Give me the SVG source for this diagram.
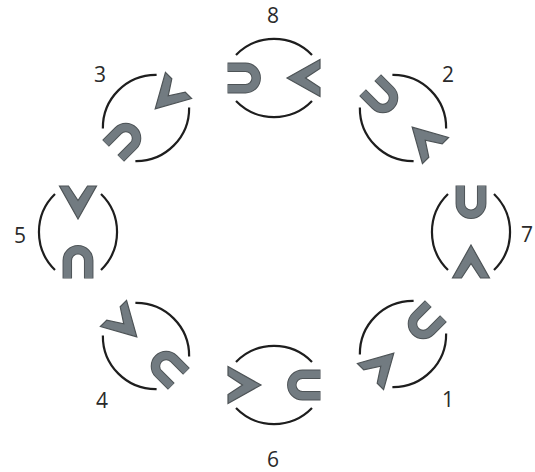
<svg xmlns="http://www.w3.org/2000/svg" xmlns:xlink="http://www.w3.org/1999/xlink" width="535" height="472" viewBox="0 0 535 472">
<style>
.arc{fill:none;stroke:#1e1e1e;stroke-width:2.2;stroke-linecap:butt}
.uo{fill:none;stroke:#4d5356;stroke-width:9.5;stroke-linecap:butt}
.ui{fill:none;stroke:#727b81;stroke-width:7.6;stroke-linecap:butt}
.chev{fill:#727b81;stroke:#4d5356;stroke-width:1.2;stroke-linejoin:miter}
.lbl{font-family:"Open Sans","Noto Sans","Liberation Sans",sans-serif;font-size:21px;fill:#2a2a2a;text-anchor:middle}
</style>
<defs>
<g id="sym">
<path class="arc" d="M-38,-23 A53 53 0 0 1 38,-23"/>
<path class="arc" d="M-38,23 A53 53 0 0 0 38,23"/>
<path class="uo" d="M-46.5,-10.7 H-28.5 A10.7 10.7 0 0 1 -28.5,10.7 H-46.5"/>
<path class="ui" d="M-46,-10.7 H-28.5 A10.7 10.7 0 0 1 -28.5,10.7 H-46"/>
<path class="chev" d="M13,0 L46,-18.5 L46,-9.5 L31.5,0 L46,9.5 L46,18.5 Z"/>
</g>
</defs>
<g id="node8"><use xlink:href="#sym" href="#sym" transform="translate(274,78) rotate(0)"/><text class="lbl" x="273" y="23">8</text></g>
<g id="node2"><use xlink:href="#sym" href="#sym" transform="translate(403,118) rotate(45)"/><text class="lbl" x="448" y="82">2</text></g>
<g id="node7"><use xlink:href="#sym" href="#sym" transform="translate(471,232) rotate(90)"/><text class="lbl" x="527" y="242">7</text></g>
<g id="node1"><use xlink:href="#sym" href="#sym" transform="translate(403,344) rotate(135)"/><text class="lbl" x="448" y="407">1</text></g>
<g id="node6"><use xlink:href="#sym" href="#sym" transform="translate(274,385) rotate(180)"/><text class="lbl" x="273" y="467">6</text></g>
<g id="node4"><use xlink:href="#sym" href="#sym" transform="translate(146,346) rotate(225)"/><text class="lbl" x="102" y="408">4</text></g>
<g id="node5"><use xlink:href="#sym" href="#sym" transform="translate(78,232) rotate(270)"/><text class="lbl" x="20" y="243">5</text></g>
<g id="node3"><use xlink:href="#sym" href="#sym" transform="translate(146,118) rotate(315)"/><text class="lbl" x="100" y="82">3</text></g>
<g id="connectors"></g>
</svg>
